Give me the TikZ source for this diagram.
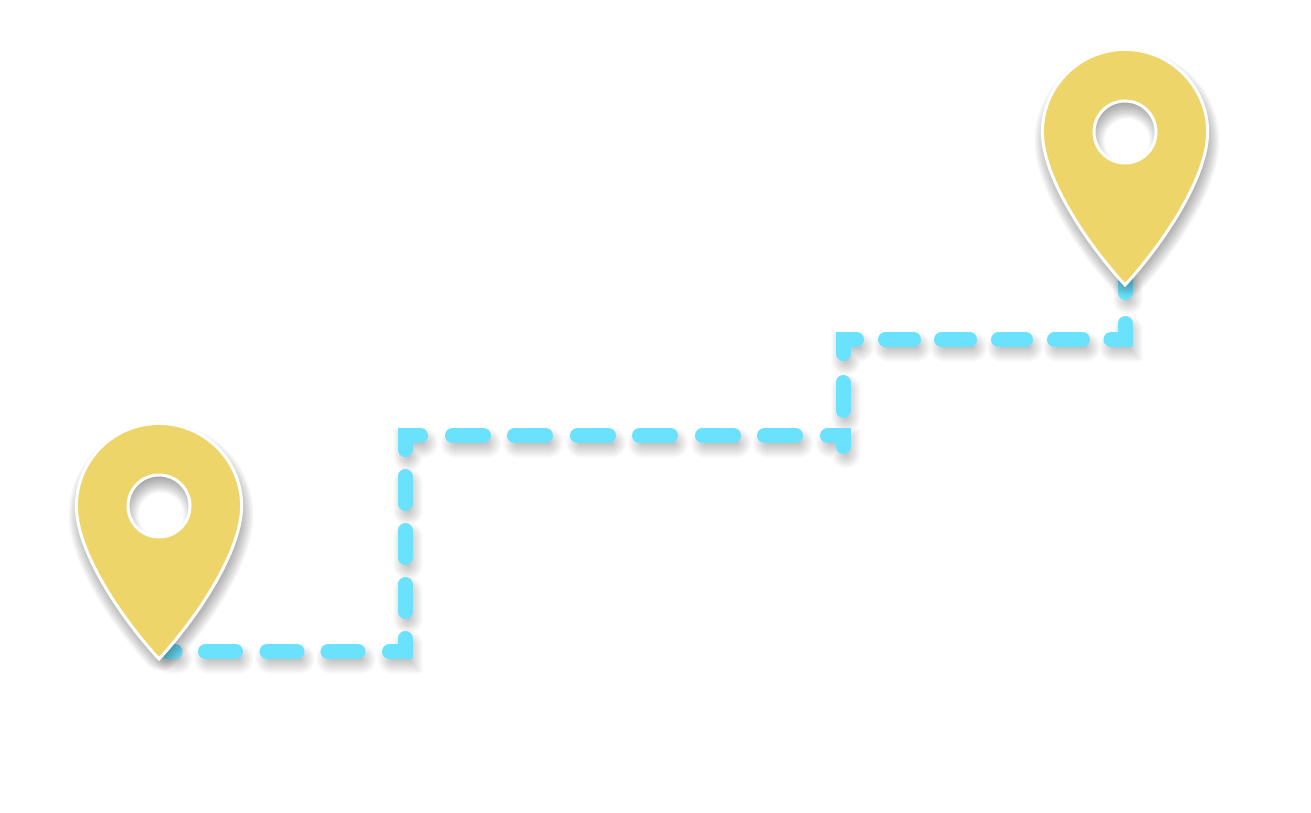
\documentclass[tikz,border=0pt]{standalone}
\definecolor{pinyellow}{HTML}{EED56A}
\definecolor{dashcyan}{HTML}{6AE2FD}
\newcommand{\pinoutline}{(-82.6,0) .. controls (-82.6,-45.6) and (-45.6,-82.6) .. (0,-82.6)
  .. controls (45.6,-82.6) and (82.6,-45.6) .. (82.6,0)
  .. controls (82.6,46) and (37,113) .. (0,153)
  .. controls (-37,113) and (-82.6,46) .. (-82.6,0) -- cycle}
\newcommand{\pinshadow}[2]{%
  \begin{scope}[shift={(#1,#2)}]
  \foreach \g in {0,3,...,36}{
    \begin{scope}[transparency group,opacity=0.036]
      \path[fill=black,draw=black,even odd rule,line join=round,line width=\g pt,scale=0.9]
        \pinoutline (0,0) circle[radius=45];
    \end{scope}}
  \end{scope}}
\newcommand{\pinbody}[2]{%
  \begin{scope}[shift={(#1,#2)}]
    \path[fill=pinyellow,even odd rule] \pinoutline (0,0) circle[radius=31];
    \draw[white,line width=3pt,miter limit=10,line join=miter] \pinoutline;
    \draw[white,line width=3pt] (0,0) circle[radius=31];
  \end{scope}}
\newcommand{\dashpaths}{%
  \dashone{(167,651.5) -- (175,651.5)}
  \dashone{(205.5,651.5) -- (235.5,651.5)}
  \dashone{(267,651.5) -- (297,651.5)}
  \dashone{(328,651.5) -- (358,651.5)}
  \dashone{(389.5,651.5) -- (405,651.5) -- (405,638.5)}
  \dashone{(405,611.5) -- (405,584.5)}
  \dashone{(405,557.5) -- (405,530.5)}
  \dashone{(405,503.5) -- (405,476.5)}
  \dashone{(405,449.5) -- (405,435.5) -- (420.5,435.5)}
  \dashone{(452.5,435.5) -- (483.5,435.5)}
  \dashone{(514.5,435.5) -- (545.5,435.5)}
  \dashone{(577.5,435.5) -- (608.5,435.5)}
  \dashone{(639.5,435.5) -- (670.5,435.5)}
  \dashone{(702.5,435.5) -- (733.5,435.5)}
  \dashone{(764.5,435.5) -- (795.5,435.5)}
  \dashone{(827.5,435.5) -- (843,435.5) -- (843,446.5)}
  \dashone{(843,410.5) -- (843,382.5)}
  \dashone{(843,353.5) -- (843,339.5) -- (856.5,339.5)}
  \dashone{(885.5,339.5) -- (913.5,339.5)}
  \dashone{(941.5,339.5) -- (969.5,339.5)}
  \dashone{(998.5,339.5) -- (1025.5,339.5)}
  \dashone{(1054.5,339.5) -- (1082.5,339.5)}
  \dashone{(1111,339.5) -- (1125,339.5) -- (1125,323.5)}
  \dashone{(1125,292.5) -- (1125,280)}
}
\begin{document}
\begin{tikzpicture}[x=1pt,y=-1pt,line cap=round,line join=miter]
\useasboundingbox (0,0) rectangle (1311,813);
\fill[white] (0,0) rectangle (1311,813);
% dash shadows
\begin{scope}[shift={(3,7)}]
\foreach \w in {2,4,...,30}{
  \def\dashone##1{\draw[black,opacity=0.016,line width=\w pt] ##1;}
  \dashpaths
}
\end{scope}
% dashes
\def\dashone#1{\draw[dashcyan,line width=15pt] #1;}
\dashpaths
% pins
\pinshadow{161}{515}
\pinshadow{1127}{141}
\pinbody{159}{506}
\pinbody{1125}{132}
\end{tikzpicture}
\end{document}
